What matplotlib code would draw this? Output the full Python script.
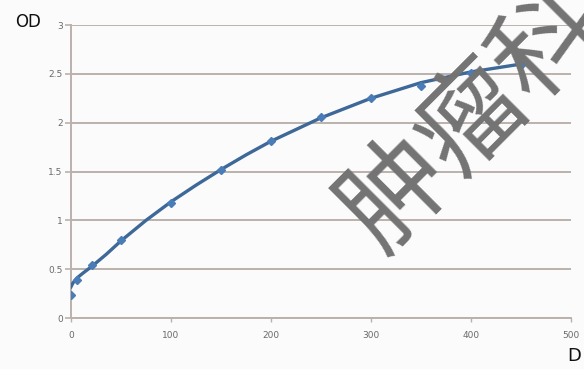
import matplotlib.pyplot as plt

# measured points
dose = [0, 6, 21, 50, 100, 150, 200, 250, 300, 350, 400, 450]
od = [0.235, 0.39, 0.54, 0.80, 1.18, 1.52, 1.81, 2.06, 2.25, 2.38, 2.51, 2.59]

# trend line
curve_x = [0, 2, 6, 12, 21, 35, 50, 75, 100, 125, 150, 175, 200, 250, 300, 350, 400, 450]
curve_y = [0.32, 0.36, 0.41, 0.46, 0.53, 0.65, 0.79, 1.00, 1.19, 1.36, 1.52, 1.67,
           1.81, 2.05, 2.25, 2.41, 2.52, 2.60]

x_ticks = [0, 100, 200, 300, 400, 500]
y_ticks = [0, 0.5, 1, 1.5, 2, 2.5, 3]
y_labels = ["0", "0.5", "1", "1.5", "2", "2.5", "3"]

grid_col = "#bbb1ac"
tick_col = "#6a6a6a"

fig = plt.figure(figsize=(5.84, 3.69), dpi=100, facecolor="#fbfbfb")
ax = fig.add_axes([0.1216, 0.1382, 0.8561, 0.794])
ax.set_facecolor("#fbfbfb")

ax.plot(curve_x, curve_y, color="#3d6898", lw=2.4, zorder=3)
ax.plot(dose, od, "D", color="#4a7db8", ms=4, zorder=4)

ax.set_xlim(0, 500)
ax.set_ylim(0, 3)
ax.set_xticks(x_ticks)
ax.set_xticklabels([str(v) for v in x_ticks], fontsize=6.5, color=tick_col)
ax.set_yticks(y_ticks)
ax.set_yticklabels(y_labels, fontsize=6.5, color=tick_col)
ax.yaxis.grid(True, color=grid_col, lw=1.4)
ax.set_axisbelow(True)
for s in ["top", "right"]:
    ax.spines[s].set_visible(False)
ax.spines["left"].set_color(grid_col)
ax.spines["left"].set_linewidth(1.4)
ax.spines["bottom"].set_color(grid_col)
ax.spines["bottom"].set_linewidth(1.4)
ax.tick_params(axis="y", length=4, color=grid_col, width=1.2, pad=2)
ax.tick_params(axis="x", length=3, color=grid_col, width=1, pad=6)

fig.text(0.026, 0.94, "OD", fontsize=12, color="#111111", va="center")
fig.text(0.983, 0.035, "D", fontsize=13, color="#111111", ha="center", va="center")

# watermark, cut off at the top right as in the source
fig.text(0.81, 0.68, "肿瘤科", fontsize=77, rotation=45, color="#737373",
         ha="center", va="center", family=["Noto Sans CJK SC", "DejaVu Sans"],
         rotation_mode="anchor", zorder=10)

fig.savefig("out.png", dpi=100, facecolor=fig.get_facecolor())
